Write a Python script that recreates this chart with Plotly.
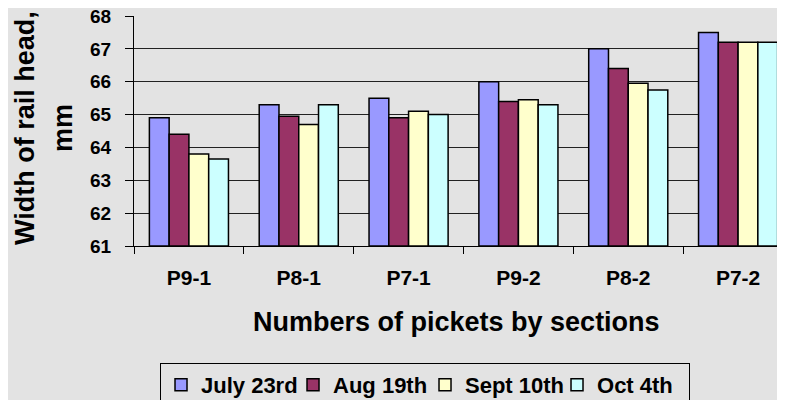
import plotly.graph_objects as go

# pickets and measured rail head widths (mm)
pickets = ["P9-1", "P8-1", "P7-1", "P9-2", "P8-2", "P7-2"]
july_23 = [64.9, 65.3, 65.5, 66.0, 67.0, 67.5]
aug_19 = [64.4, 64.95, 64.9, 65.4, 66.4, 67.2]
sept_10 = [63.8, 64.7, 65.1, 65.45, 65.95, 67.2]
oct_4 = [63.65, 65.3, 65.0, 65.3, 65.75, 67.2]

series = [
    ("July 23rd", july_23, "#9999FF"),
    ("Aug 19th", aug_19, "#993366"),
    ("Sept 10th", sept_10, "#FFFFCC"),
    ("Oct 4th", oct_4, "#CCFFFF"),
]

FONT = "Liberation Sans, Arial, sans-serif"

fig = go.Figure()
for name, vals, col in series:
    fig.add_trace(go.Bar(
        x=pickets, y=[v - 61 for v in vals], base=61,
        name=name, marker=dict(color=col, line=dict(color="black", width=1.5)),
    ))

# page body has an 8px margin, so the right edge of the plot runs past the window
fig.update_layout(
    width=785, height=400,
    margin=dict(l=126, r=0, t=8, b=162, autoexpand=False),
    paper_bgcolor="#e3e3e3", plot_bgcolor="rgba(0,0,0,0)",
    barmode="group", bargap=0.28, bargroupgap=0,
    font=dict(family=FONT, color="black"),
    showlegend=True,
    legend=dict(
        orientation="h", x=0.4416, xanchor="center", y=-0.509, yanchor="top",
        font=dict(size=22, weight="bold", family=FONT),
        bordercolor="black", borderwidth=1, bgcolor="rgba(0,0,0,0)",
        traceorder="normal", itemwidth=30,
        entrywidth=87, entrywidthmode="pixels",
    ),
)

fig.update_xaxes(
    type="category", range=[-0.5, 5.5], automargin=False,
    showline=True, linecolor="black", linewidth=1,
    ticks="outside", tickson="boundaries", ticklen=7, tickcolor="black",
    tickfont=dict(size=21, weight="bold", family=FONT),
    ticklabelstandoff=13, ticklabeloverflow="allow",
    showgrid=False,
)
fig.update_yaxes(
    range=[61, 68], dtick=1, automargin=False,
    showline=True, linecolor="black", linewidth=1,
    ticks="outside", ticklen=8, tickcolor="black",
    tickfont=dict(size=19, weight="bold", family=FONT),
    ticklabelstandoff=10, ticklabeloverflow="allow",
    showgrid=True, gridcolor="#222222", gridwidth=1.4, zeroline=False,
)

fig.add_annotation(
    text="Numbers of pickets by sections", xref="paper", yref="paper",
    x=0.490, y=-0.330, xanchor="center", yanchor="middle", showarrow=False,
    font=dict(size=27, weight="bold", family=FONT),
)
fig.add_annotation(
    text="Width of rail head,", xref="paper", yref="paper",
    x=-0.1654, y=0.513, xanchor="center", yanchor="middle", showarrow=False,
    textangle=-90, font=dict(size=27, weight="bold", family=FONT),
)
fig.add_annotation(
    text="mm", xref="paper", yref="paper",
    x=-0.1077, y=0.513, xanchor="center", yanchor="middle", showarrow=False,
    textangle=-90, font=dict(size=27, weight="bold", family=FONT),
)

fig.write_html("out.html")
